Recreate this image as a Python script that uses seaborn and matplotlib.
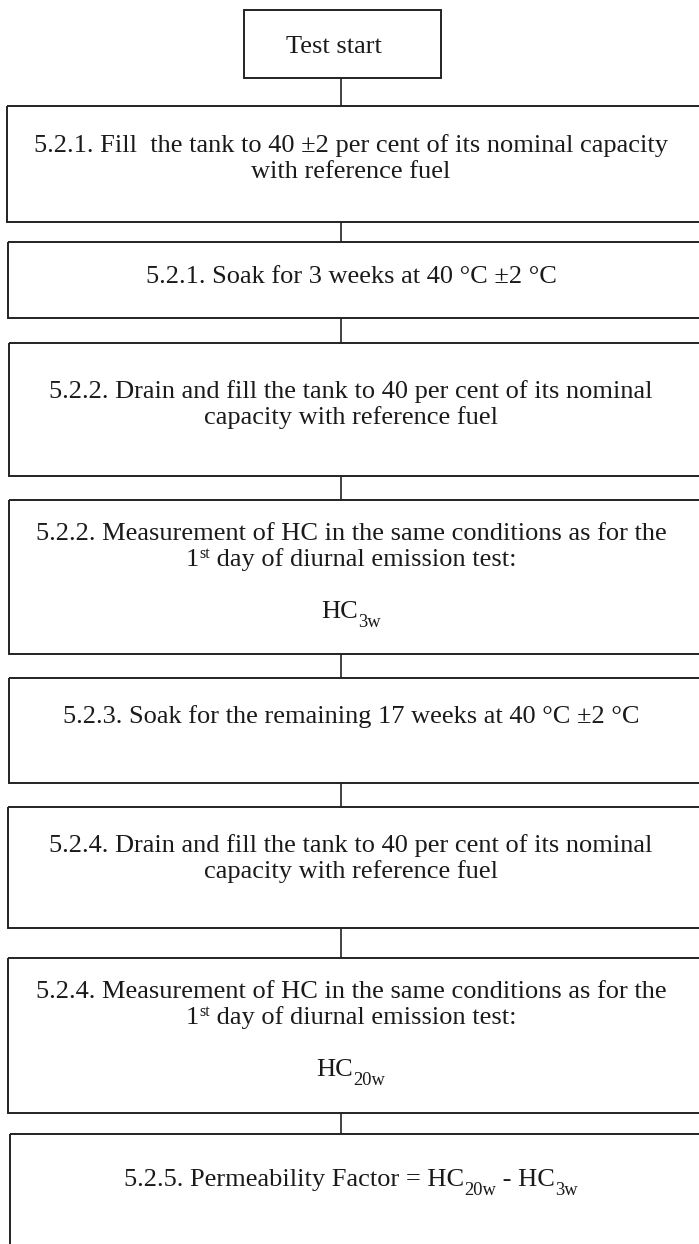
import re
import matplotlib
matplotlib.use("Agg")
import matplotlib.pyplot as plt
from matplotlib.patches import Rectangle
import seaborn as sns

# flowchart text, one list of lines per box (top to bottom)
# "_{..}" marks a subscript, "^{..}" a superscript
step_lines = [
    ["Test start"],
    ["5.2.1. Fill  the tank to 40 ±2 per cent of its nominal capacity",
     "with reference fuel"],
    ["5.2.1. Soak for 3 weeks at 40 °C ±2 °C"],
    ["5.2.2. Drain and fill the tank to 40 per cent of its nominal",
     "capacity with reference fuel"],
    ["5.2.2. Measurement of HC in the same conditions as for the",
     "1^{st} day of diurnal emission test:",
     "HC_{3w}"],
    ["5.2.3. Soak for the remaining 17 weeks at 40 °C ±2 °C"],
    ["5.2.4. Drain and fill the tank to 40 per cent of its nominal",
     "capacity with reference fuel"],
    ["5.2.4. Measurement of HC in the same conditions as for the",
     "1^{st} day of diurnal emission test:",
     "HC_{20w}"],
    ["5.2.5. Permeability Factor = HC_{20w} - HC_{3w}"],
]

# layout in pixels (image is 699 x 1244, y grows downwards)
box_left = [244, 7, 8, 9, 9, 9, 8, 8, 10]
box_right = [441, 720, 720, 720, 720, 720, 720, 720, 720]
box_top = [10, 106, 242, 343, 500, 678, 807, 958, 1134]
box_bottom = [78, 222, 318, 476, 654, 783, 928, 1113, 1260]
line_base = [[53], [152, 178], [283], [398, 424], [540, 566, 618], [723],
             [852, 878], [998, 1024, 1076], [1186]]
text_x = [334, 351, 351, 351, 351, 351, 351, 351, 351]
link_x = 341

FS = 19
sns.set_style("white")
plt.rcParams["font.family"] = ["Liberation Serif", "DejaVu Serif"]

fig = plt.figure(figsize=(6.99, 12.44), dpi=100)
ax = fig.add_axes([0, 0, 1, 1])
ax.set_xlim(0, 699)
ax.set_ylim(1244, 0)
ax.axis("off")
renderer = fig.canvas.get_renderer()


def split_line(s):
    parts = []
    pos = 0
    for m in re.finditer(r"([_^])\{([^}]*)\}", s):
        if m.start() > pos:
            parts.append((s[pos:m.start()], 0))
        parts.append((m.group(2), -1 if m.group(1) == "_" else 1))
        pos = m.end()
    if pos < len(s):
        parts.append((s[pos:], 0))
    return parts


def draw_line(xc, yb, s):
    objs = []
    total = 0
    for txt, kind in split_line(s):
        if kind == 0:
            size, dy = FS, 0
        elif kind < 0:
            size, dy = FS * 0.7, 9
        else:
            size, dy = FS * 0.6, -8
        t = ax.text(0, yb + dy, txt, ha="left", va="baseline",
                    fontsize=size, color="#1a1a1a")
        w = t.get_window_extent(renderer).width
        objs.append((t, w))
        total += w
    x = xc - total / 2
    for t, w in objs:
        t.set_x(x)
        x += w


edge = "#222222"
for i, lines in enumerate(step_lines):
    ax.add_patch(Rectangle((box_left[i], box_top[i]),
                           box_right[i] - box_left[i],
                           box_bottom[i] - box_top[i],
                           fill=False, edgecolor=edge, linewidth=1.4))
    for txt, yb in zip(lines, line_base[i]):
        draw_line(text_x[i], yb, txt)
    # connector to the next box
    if i < len(step_lines) - 1:
        ax.plot([link_x, link_x], [box_bottom[i], box_top[i + 1]],
                color=edge, linewidth=1.2)

fig.savefig("out.png", dpi=100)
